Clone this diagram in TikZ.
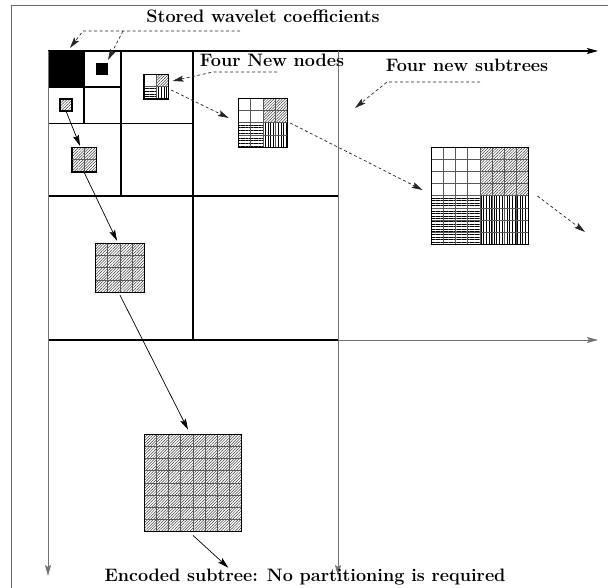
\documentclass[tikz,border=0pt]{standalone}
\usepackage{tikz}
\usetikzlibrary{arrows.meta, calc, patterns.meta, positioning}
\tikzset{
>={Stealth[length=11pt,width=6pt,inset=2pt]}, % solid narrow heads
every node/.style={inner sep=1pt},
part/.style={line width=1.1pt}, % quadtree partition lines
axis/.style={line width=0.9pt, black!55},
link/.style={->, line width=0.7pt},
note/.style={->, line width=0.7pt, black!85, dash pattern=on 3pt off 2.5pt},
tag/.style={font=\fontsize{18}{20}\selectfont\bfseries},
blk/.style={draw, line width=1.2pt, inner sep=0pt, outer sep=0pt, minimum size=#1},
coef/.style={fill=black, inner sep=0pt, outer sep=0pt},
hatch/.style={pattern={Lines[angle=45,distance=2pt,line width=0.5pt]}, pattern color=black!75},
hlines/.style={pattern={Lines[angle=0,distance=2.6pt,line width=0.6pt]}},
vlines/.style={pattern={Lines[angle=90,distance=2.6pt,line width=0.6pt]}},
}
\newcommand\cellsz{12.1}
% inner lines of a block: node, cells per side, cell size
\newcommand\cellgrid[3]{%
  \pgfmathtruncatemacro\lastcell{#2-1}
  \foreach \k in {1,...,\lastcell} {
    \draw[black!65, line width=1pt] ($(#1.north west)+(\k*#3,0)$) -- ($(#1.south west)+(\k*#3,0)$);
    \draw[black!65, line width=1pt] ($(#1.north west)+(0,\k*#3)$) -- ($(#1.north east)+(0,\k*#3)$);
  }
}
% fully hatched block: name, centre, cells per side
\newcommand\hatchblock[3]{%
  \node[blk=#3*\cellsz, hatch] (#1) at (#2) {};
  \ifnum#3>1 \cellgrid{#1}{#3}{\cellsz}\fi
}
% block with four kinds of quadrants: name, centre, cells per side
\newcommand\mixblock[3]{%
  \node[blk=#3*\cellsz] (#1) at (#2) {};
  \fill[hatch] (#1.north) rectangle (#1.east);
  \fill[hlines] (#1.west) rectangle (#1.south);
  \fill[vlines] (#1.center) rectangle (#1.south east);
  \cellgrid{#1}{#3}{\cellsz}
  \draw[line width=1.2pt] (#1.north west) rectangle (#1.south east);
}

\begin{document}
\begin{tikzpicture}[x=1pt, y=-1pt]
  \useasboundingbox (0,0) rectangle (608,588);
  \draw[black!60, line width=1pt] (608,6) -- (11,6) -- (11,588);

  % partition of the coefficient plane
  \node[coef, minimum size=36] (c0) at (66,69) {};
  \node[coef, minimum size=12] (c1) at (102,69) {};
  \draw[part] (193,51) -- (193,340)  (48,196) -- (338,196)
              (121,51) -- (121,196)  (48,123.5) -- (193,123.5)
              (84,51) -- (84,123.5)  (48,87) -- (121,87)
              (48,340) -- (338,340);
  \draw[part,->] (48,51) -- (598,51);
  \draw[axis,->] (338,340) -- (598,340);
  \draw[axis,->] (48,51) -- (48,576);
  \draw[axis,->] (338,51) -- (338,576);

  % subtrees
  \hatchblock{h1}{66,105}{1}
  \hatchblock{h2}{84,160}{2}
  \hatchblock{h3}{120,268}{4}
  \hatchblock{h4}{193,483}{8}
  \mixblock{m1}{156,87}{2}
  \mixblock{m2}{263,123}{4}
  \mixblock{m3}{480,196}{8}

  % labels
  \node[tag] (stored) at (263,16) {Stored wavelet coefficients};
  \node[tag] (nn) at (272,60) {Four New nodes};
  \node[tag] (ns) at (467,65) {Four new subtrees};
  \node[tag] (enc) at (305,577) {Encoded subtree: No partitioning is required};

  \coordinate (k0) at (240,31);
  \coordinate (k1) at (83,31);
  \coordinate (k2) at (123,31);
  \coordinate (n0) at (277,72);
  \coordinate (n1) at (213,72);
  \coordinate (s0) at (480,82);
  \coordinate (s1) at (387,82);
  \coordinate (s2) at (355,108);
  \coordinate (out) at (585,232);

  \draw[note] (k0) -- (k1) -- ([xshift=4pt,yshift=3pt]c0.north);
  \draw[note] (k2) -- ([xshift=6pt,yshift=3pt]c1.north);
  \draw[note] (n0) -- (n1) -- ([xshift=4.5pt,yshift=6pt]m1.east);
  \draw[note] (s0) -- (s1) -- (s2);
  \draw[note] ([xshift=3pt,yshift=-3pt]m1.east) -- ([xshift=-10pt,yshift=5pt]m2.west);
  \draw[note] ([xshift=3pt]m2.east) -- ([xshift=-9pt,yshift=6pt]m3.west);
  \draw[note] ([xshift=9pt]m3.east) -- (out);

  \draw[link] (h1.south) -- ([xshift=-4pt,yshift=2pt]h2.north);
  \draw[link] (h2.south) -- ([xshift=-3pt,yshift=3pt]h3.north);
  \draw[link] ([yshift=-3pt]h3.south) -- ([xshift=-5pt,yshift=5pt]h4.north);
  \draw[link] ([yshift=-4pt]h4.south) -- ($(enc.north west)!0.31!(enc.north east)$);
\end{tikzpicture}
\end{document}
